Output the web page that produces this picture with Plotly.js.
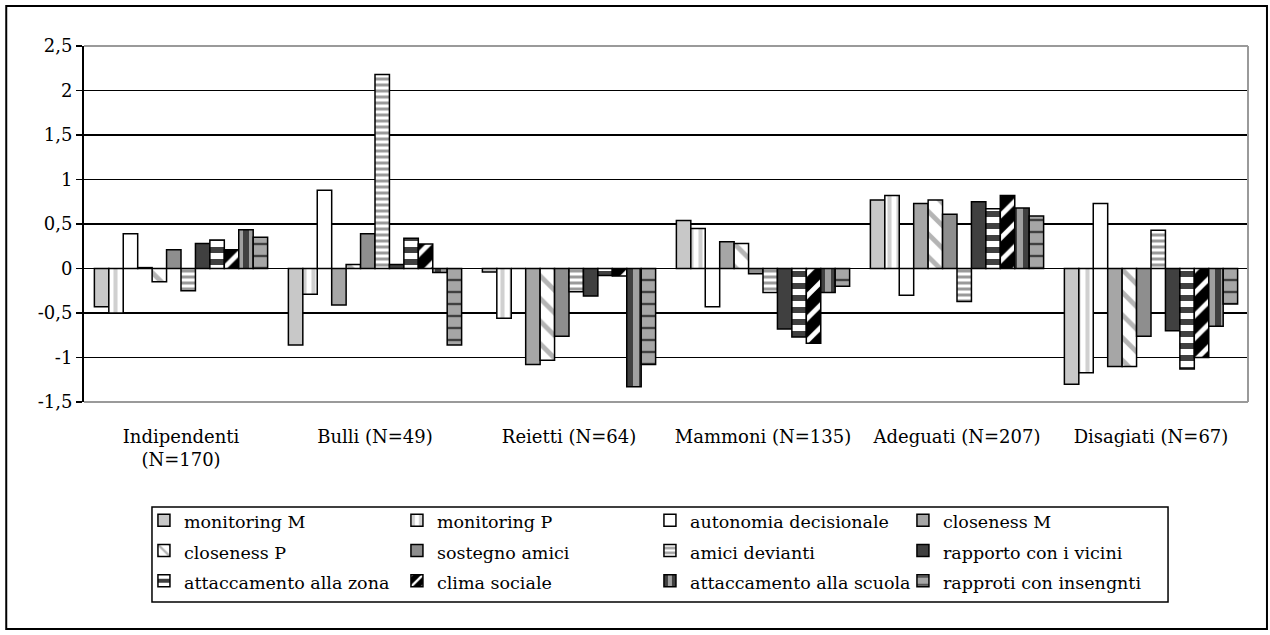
<!DOCTYPE html>
<html>
<head>
<meta charset="utf-8">
<script src="https://cdn.plot.ly/plotly-3.0.1.min.js"></script>
<style>html,body{margin:0;padding:0;background:#fff;}#chart{width:1270px;height:635px;}</style>
</head>
<body>
<div id="chart"></div>
<script>
const categories = ['Indipendenti<br>(N=170)', 'Bulli (N=49)', 'Reietti (N=64)', 'Mammoni (N=135)', 'Adeguati (N=207)', 'Disagiati (N=67)'];
const seriesNames = ['monitoring M', 'monitoring P', 'autonomia decisionale', 'closeness M', 'closeness P', 'sostegno amici', 'amici devianti', 'rapporto con i vicini', 'attaccamento alla zona', 'clima sociale', 'attaccamento alla scuola', 'rapproti con insengnti'];
const monitoringM   = [-0.43, -0.86, -0.04,  0.54,  0.77, -1.30];
const monitoringP   = [-0.50, -0.29, -0.56,  0.45,  0.82, -1.17];
const autonomia     = [ 0.39,  0.88,  0.00, -0.43, -0.30,  0.73];
const closenessM    = [ 0.01, -0.41, -1.08,  0.30,  0.73, -1.10];
const closenessP    = [-0.15,  0.045,-1.03,  0.28,  0.77, -1.10];
const sostegnoAmici = [ 0.21,  0.39, -0.76, -0.06,  0.61, -0.76];
const amiciDevianti = [-0.25,  2.18, -0.26, -0.27, -0.37,  0.43];
const rapportoVicini= [ 0.28,  0.045,-0.31, -0.68,  0.75, -0.70];
const attaccZona    = [ 0.32,  0.34, -0.08, -0.77,  0.67, -1.13];
const climaSociale  = [ 0.21,  0.275,-0.085,-0.84,  0.82, -1.00];
const attaccScuola  = [ 0.435,-0.045,-1.33, -0.27,  0.68, -0.65];
const rapportiIns   = [ 0.35, -0.86, -1.08, -0.20,  0.59, -0.40];
const tickVals   = [-1.5, -1, -0.5, 0, 0.5, 1, 1.5, 2, 2.5];
const tickLabels = ['-1,5', '-1', '-0,5', '0', '0,5', '1', '1,5', '2', '2,5'];

const values = [monitoringM, monitoringP, autonomia, closenessM, closenessP, sostegnoAmici, amiciDevianti, rapportoVicini, attaccZona, climaSociale, attaccScuola, rapportiIns];

const styles = [
  {color: '#c8c8c8'},
  {color: '#ffffff', pattern: {shape: '|', fgcolor: '#d0d0d0', bgcolor: '#ffffff', size: 9, solidity: 0.45, fillmode: 'replace'}},
  {color: '#ffffff'},
  {color: '#a6a6a6'},
  {color: '#ffffff', pattern: {shape: '\\', fgcolor: '#b4b4b4', bgcolor: '#ffffff', size: 16, solidity: 0.3, fillmode: 'replace'}},
  {color: '#8e8e8e'},
  {color: '#ffffff', pattern: {shape: '-', fgcolor: '#9a9a9a', bgcolor: '#ffffff', size: 6, solidity: 0.5, fillmode: 'replace'}},
  {color: '#404040'},
  {color: '#404040', pattern: {shape: '-', fgcolor: '#ffffff', bgcolor: '#404040', size: 12, solidity: 0.5, fillmode: 'replace'}},
  {color: '#000000', pattern: {shape: '/', fgcolor: '#ffffff', bgcolor: '#000000', size: 16, solidity: 0.3, fillmode: 'replace'}},
  {color: '#a0a0a0', pattern: {shape: '|', fgcolor: '#404040', bgcolor: '#a0a0a0', size: 12, solidity: 0.5, fillmode: 'replace'}},
  {color: '#a6a6a6', pattern: {shape: '-', fgcolor: '#404040', bgcolor: '#a6a6a6', size: 12, solidity: 0.2, fillmode: 'replace'}}
];

const traces = seriesNames.map((name, i) => {
  const marker = {color: styles[i].color, line: {color: '#000000', width: 1.5}};
  if (styles[i].pattern) marker.pattern = styles[i].pattern;
  return {type: 'bar', name: '<span style="font-size:17.5px">' + name + '</span>', x: categories, y: values[i], marker: marker, hoverinfo: 'skip'};
});

const fontFam = 'DejaVu Serif, serif';
const layout = {
  width: 1270, height: 635,
  margin: {l: 84, r: 22, t: 46, b: 233, pad: 0},
  paper_bgcolor: '#ffffff', plot_bgcolor: '#ffffff',
  font: {family: fontFam, color: '#000000', size: 18},
  barmode: 'group', bargap: 0.107, bargroupgap: 0,
  showlegend: true,
  xaxis: {
    type: 'category', showgrid: false, zeroline: false, showline: false,
    ticks: '', tickfont: {family: fontFam, size: 18, color: '#000'},
    ticklabelstandoff: 22, automargin: false
  },
  yaxis: {
    range: [-1.5, 2.5], tickvals: tickVals, ticktext: tickLabels,
    showgrid: true, gridcolor: '#000000', gridwidth: 1.5,
    zeroline: true, zerolinecolor: '#000000', zerolinewidth: 1.5,
    showline: true, linecolor: '#000000', linewidth: 2,
    ticks: 'outside', ticklen: 6, tickcolor: '#000000', tickwidth: 1.5,
    tickfont: {family: fontFam, size: 18, color: '#000'}, automargin: false
  },
  legend: {
    orientation: 'h', x: 0.0515, y: -0.2753, xanchor: 'left', yanchor: 'top',
    entrywidth: 208, entrywidthmode: 'pixels',
    borderwidth: 0, bgcolor: 'rgba(0,0,0,0)',
    font: {family: fontFam, size: 21, color: '#000'},
    traceorder: 'normal', itemclick: false, itemdoubleclick: false
  },
  shapes: [
    {type: 'line', xref: 'paper', yref: 'paper', x0: 0, x1: 1, y0: 1, y1: 1, line: {color: '#9a9a9a', width: 2}, layer: 'above'},
    {type: 'line', xref: 'paper', yref: 'paper', x0: 0, x1: 1, y0: 0, y1: 0, line: {color: '#9a9a9a', width: 2}, layer: 'above'},
    {type: 'line', xref: 'paper', yref: 'paper', x0: 1, x1: 1, y0: 0, y1: 1, line: {color: '#9a9a9a', width: 2}, layer: 'above'},
    {type: 'rect', xref: 'paper', yref: 'paper', x0: 0.0584, x1: 0.9313, y0: -0.5618, y1: -0.2949, line: {color: '#000000', width: 1.5}, fillcolor: 'rgba(0,0,0,0)', layer: 'above'},
    {type: 'rect', xref: 'paper', yref: 'paper', x0: -0.0668, x1: 1.0163, y0: -0.6376, y1: 1.1124, line: {color: '#000000', width: 2}, fillcolor: 'rgba(0,0,0,0)', layer: 'above'}
  ]
};

Plotly.newPlot('chart', traces, layout, {displayModeBar: false, staticPlot: true});
</script>
</body>
</html>
